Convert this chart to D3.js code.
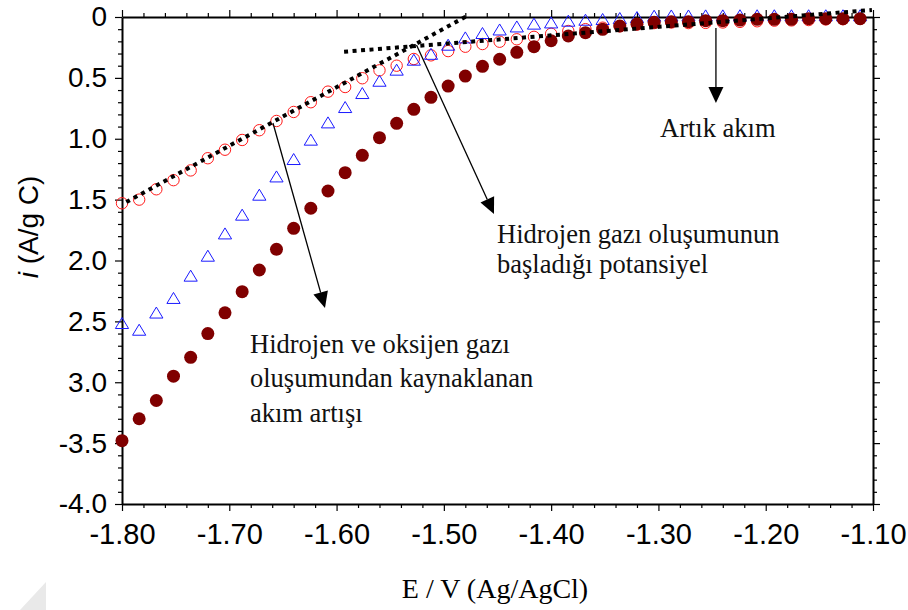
<!DOCTYPE html>
<html><head><meta charset="utf-8">
<script src="https://cdn.jsdelivr.net/npm/d3@7"></script>
<style>body{margin:0;background:#fff} svg{display:block}</style>
</head><body>
<svg id="c" width="908" height="610"></svg>
<script>
// ---- data ----
const potential = [-1.800,-1.784,-1.768,-1.752,-1.736,-1.720,-1.704,-1.688,-1.672,-1.656,-1.640,-1.624,-1.608,-1.592,-1.576,-1.560,-1.544,-1.528,-1.512,-1.496,-1.480,-1.464,-1.448,-1.432,-1.416,-1.400,-1.384,-1.368,-1.352,-1.336,-1.320,-1.304,-1.288,-1.272,-1.256,-1.240,-1.224,-1.208,-1.192,-1.176,-1.160,-1.144,-1.128,-1.112];
const openCircle = [-1.53,-1.50,-1.415,-1.34,-1.26,-1.16,-1.09,-1.01,-0.93,-0.854,-0.78,-0.70,-0.613,-0.575,-0.503,-0.438,-0.40,-0.345,-0.315,-0.28,-0.244,-0.222,-0.203,-0.183,-0.163,-0.138,-0.115,-0.10,-0.088,-0.076,-0.062,-0.05,-0.045,-0.05,-0.048,-0.045,-0.04,-0.035,-0.03,-0.028,-0.025,-0.02,-0.018,-0.015];
const openTriangle = [-2.516,-2.571,-2.43,-2.31,-2.127,-1.963,-1.78,-1.626,-1.462,-1.312,-1.169,-1.01,-0.868,-0.742,-0.627,-0.526,-0.435,-0.353,-0.305,-0.23,-0.17,-0.134,-0.105,-0.08,-0.057,-0.047,-0.033,-0.025,-0.019,-0.011,-0.003,0.008,0.01,0.01,0.011,0.011,0.012,0.012,0.012,0.012,0.012,0.012,0.012,0.012];
const filledCircle = [-3.48,-3.30,-3.15,-2.95,-2.795,-2.60,-2.43,-2.256,-2.078,-1.908,-1.736,-1.571,-1.429,-1.279,-1.136,-0.991,-0.873,-0.758,-0.66,-0.567,-0.485,-0.405,-0.347,-0.29,-0.244,-0.195,-0.156,-0.129,-0.101,-0.074,-0.057,-0.044,-0.039,-0.039,-0.03,-0.03,-0.025,-0.019,-0.019,-0.019,-0.014,-0.014,-0.014,-0.014];

const xTickValues = [-1.80,-1.70,-1.60,-1.50,-1.40,-1.30,-1.20,-1.10];
const xTickLabels = ["-1.80","-1.70","-1.60","-1.50","-1.40","-1.30","-1.20","-1.10"];
const yTickValues = [0,-0.5,-1.0,-1.5,-2.0,-2.5,-3.0,-3.5,-4.0];
const yTickLabels = ["0","0.5","1.0","1.5","2.0","2.5","3.0","-3.5","-4.0"];

const fitLine1 = [[-1.796,-1.52],[-1.4785,0.008]];
const fitLine2 = [[-1.593,-0.285],[-1.101,0.0575]];
const arrows = [
  {from:[-1.6593,-0.871], to:[-1.6108,-2.39]},
  {from:[-1.5255,-0.23],  to:[-1.4533,-1.618]},
  {from:[-1.2464,-0.09],  to:[-1.2464,-0.706]}
];
const notes = [
  {x:660, y:137, lines:["Artık akım"], lh:0},
  {x:497, y:243, lines:["Hidrojen gazı oluşumunun","başladığı potansiyel"], lh:30},
  {x:250, y:353, lines:["Hidrojen ve oksijen gazı","oluşumundan kaynaklanan","akım artışı"], lh:34.3}
];

// ---- layout ----
const L=122, R=873, T=17, B=504;
const svg = d3.select("#c");
const x = d3.scaleLinear().domain([-1.80,-1.10]).range([L,R]);
const y = d3.scaleLinear().domain([0,-4]).range([T,B]);

// page curl artefact
svg.append("polygon").attr("points","46,582 46,610 20,610").attr("fill","#e9e9e9");

const xMinor = d3.range(0,36).map(i=>-1.80+i*0.02).filter(v=>Math.abs(Math.round(v*10)-v*10)>1e-6);
const yMinor = d3.range(0,41).map(i=>-i*0.1).filter(v=>Math.abs(Math.round(v*2)-v*2)>1e-6);

function styleAxis(g){
  g.selectAll(".domain").attr("stroke","#000").attr("stroke-width",2);
  g.selectAll(".tick line").attr("stroke","#000").attr("stroke-width",1.2);
}
// left
const gl = svg.append("g").attr("transform",`translate(${L},0)`)
  .call(d3.axisLeft(y).tickValues(yTickValues).tickSize(7).tickSizeOuter(0).tickPadding(8)
    .tickFormat((d,i)=>yTickLabels[i]));
styleAxis(gl);
gl.selectAll("text").attr("font-family","Arial, 'Liberation Sans', sans-serif").attr("font-size",28).attr("fill","#000");
svg.append("g").attr("transform",`translate(${L},0)`)
  .call(d3.axisLeft(y).tickValues(yMinor).tickSize(4).tickFormat(""))
  .call(g=>{g.select(".domain").remove(); styleAxis(g);});
// right
const gr = svg.append("g").attr("transform",`translate(${R},0)`)
  .call(d3.axisRight(y).tickValues(yTickValues).tickSize(7).tickSizeOuter(0).tickFormat(""));
styleAxis(gr);
svg.append("g").attr("transform",`translate(${R},0)`)
  .call(d3.axisRight(y).tickValues(yMinor).tickSize(4).tickFormat(""))
  .call(g=>{g.select(".domain").remove(); styleAxis(g);});
// bottom
const gb = svg.append("g").attr("transform",`translate(0,${B})`)
  .call(d3.axisBottom(x).tickValues(xTickValues).tickSize(7).tickSizeOuter(0).tickPadding(12)
    .tickFormat((d,i)=>xTickLabels[i]));
styleAxis(gb);
gb.selectAll("text").attr("font-family","Arial, 'Liberation Sans', sans-serif").attr("font-size",29).attr("fill","#000");
svg.append("g").attr("transform",`translate(0,${B})`)
  .call(d3.axisBottom(x).tickValues(xMinor).tickSize(4).tickFormat(""))
  .call(g=>{g.select(".domain").remove(); styleAxis(g);});
// top
const gt = svg.append("g").attr("transform",`translate(0,${T})`)
  .call(d3.axisTop(x).tickValues(xTickValues).tickSize(7).tickSizeOuter(0).tickFormat(""));
styleAxis(gt);
svg.append("g").attr("transform",`translate(0,${T})`)
  .call(d3.axisTop(x).tickValues(xMinor).tickSize(4).tickFormat(""))
  .call(g=>{g.select(".domain").remove(); styleAxis(g);});

// axis titles
const yt = svg.append("text").attr("transform","translate(38,227) rotate(-90)")
  .attr("text-anchor","middle").attr("font-family","Arial, 'Liberation Sans', sans-serif").attr("font-size",28).attr("fill","#000");
yt.append("tspan").attr("font-style","italic").text("i");
yt.append("tspan").text(" (A/g C)");
svg.append("text").attr("x",495).attr("y",598).attr("text-anchor","middle")
  .attr("font-family","'Times New Roman', 'Liberation Serif', serif").attr("font-size",28).attr("fill","#000")
  .text("E / V (Ag/AgCl)");

// ---- series ----
const pts = (arr)=>potential.map((e,i)=>({e, v:arr[i]}));
svg.append("g").selectAll("circle").data(pts(openCircle)).join("circle")
  .attr("cx",d=>x(d.e)).attr("cy",d=>y(d.v)).attr("r",5.7)
  .attr("fill","none").attr("stroke","#ff1a1a").attr("stroke-width",1);
const tri = "M0,-5.8L6.6,5.2L-6.6,5.2Z";
svg.append("g").selectAll("path").data(pts(openTriangle)).join("path")
  .attr("d",tri).attr("transform",d=>`translate(${x(d.e)},${y(d.v)})`)
  .attr("fill","none").attr("stroke","#1a1aff").attr("stroke-width",1);
svg.append("g").selectAll("circle").data(pts(filledCircle)).join("circle")
  .attr("cx",d=>x(d.e)).attr("cy",d=>y(d.v)).attr("r",6.5)
  .attr("fill","#800000");

// fit lines
const line = d3.line().x(d=>x(d[0])).y(d=>y(d[1]));
[fitLine1, fitLine2].forEach(fl=>{
  svg.append("path").attr("d",line(fl)).attr("fill","none").attr("stroke","#000")
    .attr("stroke-width",4).attr("stroke-dasharray","4,4.5");
});

// arrows
arrows.forEach(a=>{
  const x1=x(a.from[0]), y1=y(a.from[1]), x2=x(a.to[0]), y2=y(a.to[1]);
  const dx=x2-x1, dy=y2-y1, len=Math.hypot(dx,dy), ux=dx/len, uy=dy/len;
  const HL=16, HW=7.5;
  const bx=x2-ux*HL, by=y2-uy*HL;
  svg.append("line").attr("x1",x1).attr("y1",y1).attr("x2",bx).attr("y2",by)
    .attr("stroke","#000").attr("stroke-width",1.3);
  svg.append("polygon").attr("points",
    `${x2},${y2} ${bx-uy*HW},${by+ux*HW} ${bx+uy*HW},${by-ux*HW}`).attr("fill","#000");
});

// annotations
notes.forEach(n=>{
  const t = svg.append("text").attr("font-family","'Times New Roman', 'Liberation Serif', serif")
    .attr("font-size",26.5).attr("fill","#111");
  n.lines.forEach((s,i)=>t.append("tspan").attr("x",n.x).attr("y",n.y+i*n.lh).text(s));
});
</script>
</body></html>
